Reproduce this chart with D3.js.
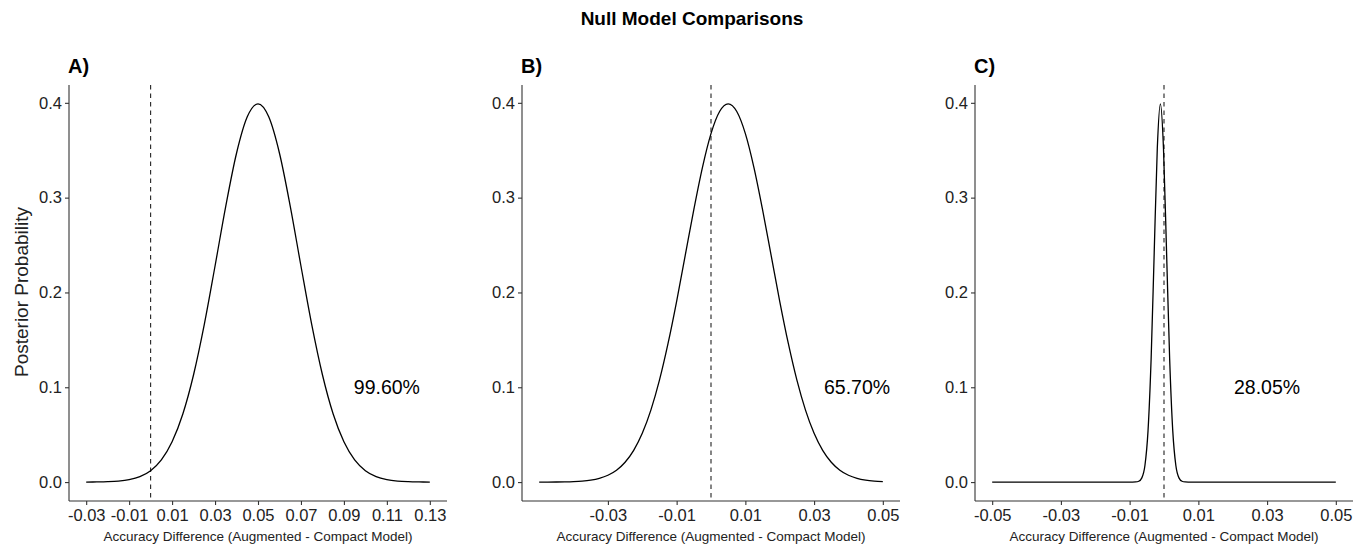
<!DOCTYPE html>
<html>
<head>
<meta charset="utf-8">
<script src="https://cdn.jsdelivr.net/npm/d3@7"></script>
<style>
  html, body { margin: 0; padding: 0; background: #fff; }
  svg { display: block; font-family: "Liberation Sans", Arial, sans-serif; }
</style>
</head>
<body>
<svg id="chart" width="1367" height="546"></svg>
<script>
// ---------------- DATA ----------------
const chartTitle = "Null Model Comparisons";
const xAxisTitle = "Accuracy Difference (Augmented - Compact Model)";
const yAxisTitle = "Posterior Probability";
const panelLabels = ["A)", "B)", "C)"];
const percentLabels = ["99.60%", "65.70%", "28.05%"];
const percentX = [0.11, 0.0425, 0.03];
const percentY = 0.1;

const yTicks = [0, 0.1, 0.2, 0.3, 0.4];
const yTickLabels = ["0.0", "0.1", "0.2", "0.3", "0.4"];

const xTicksA = [-0.03, -0.01, 0.01, 0.03, 0.05, 0.07, 0.09, 0.11, 0.13];
const xTickLabelsA = ["-0.03", "-0.01", "0.01", "0.03", "0.05", "0.07", "0.09", "0.11", "0.13"];
const xTicksB = [-0.03, -0.01, 0.01, 0.03, 0.05];
const xTickLabelsB = ["-0.03", "-0.01", "0.01", "0.03", "0.05"];
const xTicksC = [-0.05, -0.03, -0.01, 0.01, 0.03, 0.05];
const xTickLabelsC = ["-0.05", "-0.03", "-0.01", "0.01", "0.03", "0.05"];

// Panel A curve
const xA = [-0.03, -0.025, -0.02, -0.015, -0.01, -0.005, 0, 0.005, 0.01, 0.015, 0.02, 0.025, 0.03,
  0.035, 0.04, 0.045, 0.05, 0.055, 0.06, 0.065, 0.07, 0.075, 0.08, 0.085, 0.09, 0.095, 0.1,
  0.105, 0.11, 0.115, 0.12, 0.125, 0.13];
const yA = [0.00005, 0.00015, 0.00042, 0.00108, 0.00259, 0.00578, 0.01206, 0.0234, 0.0425, 0.0718,
  0.1132, 0.1663, 0.2279, 0.2911, 0.3468, 0.3852, 0.3989, 0.3852, 0.3468, 0.2911, 0.2279, 0.1663,
  0.1132, 0.0718, 0.0425, 0.0234, 0.01206, 0.00578, 0.00259, 0.00108, 0.00042, 0.00015, 0.00005];

// Panel B curve
const xB = [-0.05, -0.0475, -0.045, -0.0425, -0.04, -0.0375, -0.035, -0.0325, -0.03, -0.0275,
  -0.025, -0.0225, -0.02, -0.0175, -0.015, -0.0125, -0.01, -0.0075, -0.005, -0.0025, 0,
  0.0025, 0.005, 0.0075, 0.01, 0.0125, 0.015, 0.0175, 0.02, 0.0225, 0.025, 0.0275, 0.03,
  0.0325, 0.035, 0.0375, 0.04, 0.0425, 0.045, 0.0475, 0.05];
const yB = [0.00002, 0.00005, 0.00011, 0.00024, 0.00052, 0.00107, 0.0021, 0.00397, 0.00719, 0.0125,
  0.0209, 0.0334, 0.0514, 0.0759, 0.1075, 0.1462, 0.1907, 0.2391, 0.2874, 0.3317, 0.3675,
  0.3908, 0.3989, 0.3908, 0.3675, 0.3317, 0.2874, 0.2391, 0.1907, 0.1462, 0.1075, 0.0759, 0.0514,
  0.0334, 0.0209, 0.0125, 0.00719, 0.00397, 0.0021, 0.00107, 0.00052];

// Panel C curve
const xC = [-0.05, -0.00915, -0.00825, -0.00735, -0.00645, -0.00555, -0.00465, -0.00375, -0.00285,
  -0.00195, -0.00105, -0.00015, 0.00075, 0.00165, 0.00255, 0.00345, 0.00435, 0.00525, 0.00615,
  0.00705, 0.05];
const yC = [0, 0.00002, 0.00013, 0.00087, 0.00443, 0.0175, 0.054, 0.1295, 0.242, 0.3521, 0.3989,
  0.3521, 0.242, 0.1295, 0.054, 0.0175, 0.00443, 0.00087, 0.00013, 0.00002, 0];

// ---------------- DRAW ----------------
const svg = d3.select("#chart");
const ink = "#000";
const axisInk = "#333";

svg.append("text")
  .attr("x", 692).attr("y", 25)
  .attr("text-anchor", "middle")
  .attr("font-size", 19).attr("font-weight", "bold")
  .attr("fill", ink)
  .text(chartTitle);

const panels = [
  { left: 69, right: 447, xDomain: [-0.038, 0.138], xs: xA, ys: yA, ticks: xTicksA, labels: xTickLabelsA },
  { left: 522, right: 900, xDomain: [-0.055, 0.055], xs: xB, ys: yB, ticks: xTicksB, labels: xTickLabelsB },
  { left: 975, right: 1353, xDomain: [-0.055, 0.055], xs: xC, ys: yC, ticks: xTicksC, labels: xTickLabelsC }
];

const plotTop = 85, plotBottom = 501;
const y = d3.scaleLinear().domain([-0.01995, 0.4188]).range([plotBottom, plotTop]);

panels.forEach((p, i) => {
  const x = d3.scaleLinear().domain(p.xDomain).range([p.left, p.right]);
  const g = svg.append("g");

  // x axis
  const xAxis = d3.axisBottom(x)
    .tickValues(p.ticks)
    .tickFormat((d, j) => p.labels[j])
    .tickSizeInner(4).tickSizeOuter(0).tickPadding(4);
  const gx = g.append("g").attr("transform", `translate(0,${plotBottom})`).call(xAxis);
  gx.select(".domain").attr("stroke", axisInk).attr("stroke-width", 1.1)
    .attr("d", `M${p.left},0H${p.right}`);
  gx.selectAll(".tick line").attr("stroke", axisInk).attr("stroke-width", 1.1);
  gx.selectAll(".tick text").attr("fill", "#222").attr("font-size", 16.5)
    .attr("font-family", "Liberation Sans, Arial, sans-serif");

  // y axis
  const yAxis = d3.axisLeft(y)
    .tickValues(yTicks)
    .tickFormat((d, j) => yTickLabels[j])
    .tickSizeInner(4).tickSizeOuter(0).tickPadding(3);
  const gy = g.append("g").attr("transform", `translate(${p.left},0)`).call(yAxis);
  gy.select(".domain").attr("stroke", axisInk).attr("stroke-width", 1.1)
    .attr("d", `M0,${plotTop}V${plotBottom}`);
  gy.selectAll(".tick line").attr("stroke", axisInk).attr("stroke-width", 1.1);
  gy.selectAll(".tick text").attr("fill", "#222").attr("font-size", 16.5)
    .attr("font-family", "Liberation Sans, Arial, sans-serif");

  // x axis title
  g.append("text")
    .attr("x", (p.left + p.right) / 2).attr("y", 541)
    .attr("text-anchor", "middle")
    .attr("font-size", 13.5).attr("fill", "#222")
    .text(xAxisTitle);

  // panel label
  g.append("text")
    .attr("x", p.left - 1).attr("y", 73)
    .attr("font-size", 20).attr("font-weight", "bold").attr("fill", ink)
    .text(panelLabels[i]);

  // dashed zero line
  g.append("line")
    .attr("x1", x(0)).attr("x2", x(0))
    .attr("y1", plotTop).attr("y2", plotBottom)
    .attr("stroke", "#222").attr("stroke-width", 1.1)
    .attr("stroke-dasharray", "4.5,4");

  // density curve
  const line = d3.line()
    .x((d, j) => x(p.xs[j]))
    .y((d, j) => y(p.ys[j]))
    .curve(d3.curveMonotoneX);
  g.append("path")
    .datum(p.xs)
    .attr("d", line)
    .attr("fill", "none")
    .attr("stroke", ink)
    .attr("stroke-width", 1.3);

  // percentage annotation
  g.append("text")
    .attr("x", x(percentX[i])).attr("y", y(percentY))
    .attr("dy", "0.35em")
    .attr("text-anchor", "middle")
    .attr("font-size", 19.5).attr("fill", ink)
    .text(percentLabels[i]);
});

// y axis title (left panel only)
svg.append("text")
  .attr("transform", `translate(28,${(plotTop + plotBottom) / 2 - 1}) rotate(-90)`)
  .attr("text-anchor", "middle")
  .attr("font-size", 19).attr("fill", "#222")
  .text(yAxisTitle);
</script>
</body>
</html>
